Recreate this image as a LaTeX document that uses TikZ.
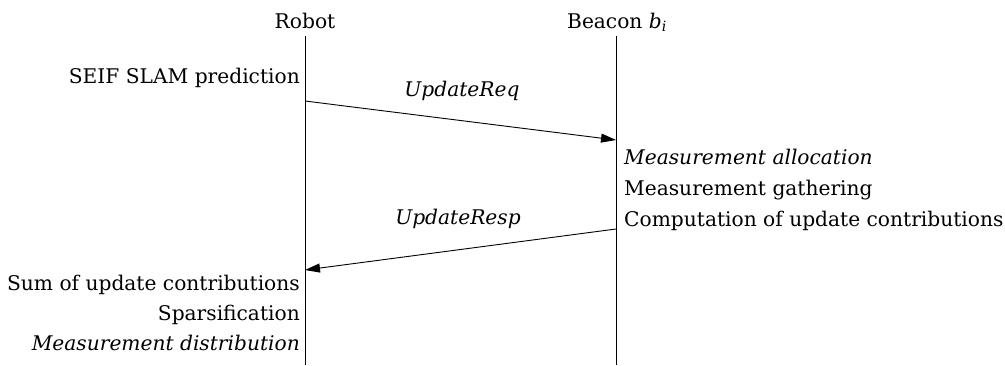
\documentclass[tikz,border=0pt]{standalone}
\usepackage{fontspec}
\setmainfont{DejaVu Serif}
\usetikzlibrary{arrows.meta}
\begin{document}
\begin{tikzpicture}[x=1pt,y=-1pt,
  txt/.style={font=\fontsize{20.2}{24}\selectfont, inner sep=0pt, anchor=base},
  actor/.style={txt},
  leftnote/.style={txt, anchor=base east},
  rightnote/.style={txt, anchor=base west},
  msglabel/.style={txt, font=\fontsize{20.2}{24}\selectfont\itshape},
  lifeline/.style={line width=0.9pt},
  message/.style={line width=0.9pt, -{Triangle[length=15pt,width=9pt]}}]
\useasboundingbox (0,0) rectangle (1005,365);

% actors and their lifelines
\node[actor] (robot)  at (305,28) {Robot};
\node[actor] (beacon) at (617,28) {Beacon \textit{b}\textsubscript{\textit{i}}};
\coordinate (robottop)    at (305,36);
\coordinate (robotend)    at (305,365);
\coordinate (beacontop)   at (616,36);
\coordinate (beaconend)   at (616,365);
\draw[lifeline] (robottop) -- (robotend);
\draw[lifeline] (beacontop) -- (beaconend);

% message end points on the lifelines
\coordinate (reqfrom)  at (305,101);
\coordinate (reqto)    at (616,140);
\coordinate (respfrom) at (616,229);
\coordinate (respto)   at (305,270);

% messages
\draw[message] (reqfrom) -- (reqto);
\draw[message] (respfrom) -- (respto);
\node[msglabel] (req)  at (462,96)  {UpdateReq};
\node[msglabel] (resp) at (458,224) {UpdateResp};

% robot activities
\node[leftnote] (predict) at (300,83)  {SEIF SLAM prediction};
\node[leftnote] (sum)     at (300,290) {Sum of update contributions};
\node[leftnote] (sparse)  at (300,320) {Sparsification};
\node[leftnote, font=\fontsize{20.2}{24}\selectfont\itshape] (distrib) at (300,350) {Measurement distribution};

% beacon activities
\node[rightnote, font=\fontsize{20.2}{24}\selectfont\itshape] (alloc) at (624,164) {Measurement allocation};
\node[rightnote] (gather)  at (624,195) {Measurement gathering};
\node[rightnote] (compute) at (624,226) {Computation of update contributions};
\end{tikzpicture}
\end{document}
